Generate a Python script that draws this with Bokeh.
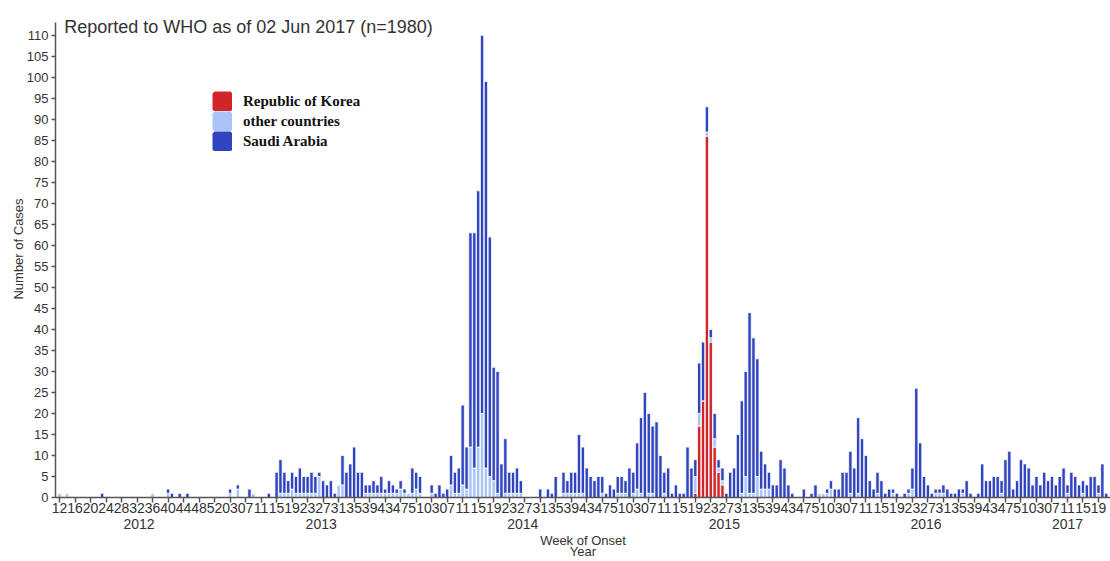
from bokeh.plotting import figure
from bokeh.models import (ColumnDataSource, FixedTicker, LinearAxis, Range1d,
                          Legend, LegendItem, Label)
from bokeh.embed import file_html
from bokeh.resources import INLINE

# ---------------- data (weekly case counts by week of onset) ----------------
years = ["2012", "2013", "2014", "2015", "2016", "2017"]
year_first_index = [0, 42, 94, 146, 198, 250]   # first week slot of each year
week_tick_labels = (
    ["12", "16", "20", "24", "28", "32", "36", "40", "44", "48", "52"]
    + ["03", "07", "11", "15", "19", "23", "27", "31", "35", "39", "43", "47", "51"] * 4
    + ["03", "07", "11", "15", "19"]
)

other = [
    1, 0, 1, 0, 0, 0, 0, 0, 0, 0,
    0, 0, 0, 0, 0, 0, 0, 0, 0, 0,
    0, 0, 0, 0, 1, 0, 0, 0, 1, 0,
    0, 0, 0, 0, 0, 0, 0, 0, 0, 0,
    0, 0, 0, 0, 1, 0, 2, 0, 0, 0,
    1, 0, 0, 0, 0, 0, 0, 1, 1, 1,
    2, 1, 1, 1, 1, 1, 1, 5, 0, 0,
    0, 0, 3, 3, 0, 0, 0, 0, 0, 1,
    1, 1, 1, 1, 1, 1, 1, 1, 2, 1,
    1, 1, 2, 1, 0, 0, 1, 0, 0, 0,
    0, 3, 1, 1, 3, 2, 12, 7, 12, 20,
    7, 5, 4, 1, 0, 1, 1, 1, 1, 1,
    0, 0, 0, 0, 0, 0, 0, 0, 0, 0,
    1, 1, 1, 1, 1, 1, 0, 0, 0, 0,
    1, 0, 0, 0, 1, 1, 1, 0, 1, 2,
    1, 0, 1, 1, 0, 0, 1, 0, 0, 0,
    0, 0, 0, 0, 4, 3, 0, 1, 1, 2,
    1, 1, 0, 0, 0, 0, 1, 5, 1, 1,
    5, 2, 2, 2, 0, 0, 0, 0, 0, 0,
    0, 0, 0, 0, 0, 0, 1, 1, 1, 2,
    0, 0, 0, 0, 1, 0, 1, 0, 0, 0,
    0, 1, 0, 0, 0, 1, 0, 0, 0, 1,
    2, 0, 0, 0, 0, 0, 1, 1, 1, 0,
    0, 0, 0, 1, 0, 0, 0, 0, 0, 0,
    0, 0, 0, 1, 0, 0, 0, 0, 0, 0,
    0, 0, 0, 0, 0, 0, 0, 0, 0, 0,
    1, 0, 0, 0, 1, 0, 0, 0, 1, 0,
    0,
]

saudi = [
    0, 0, 0, 0, 0, 0, 0, 0, 0, 0,
    0, 1, 0, 0, 0, 0, 0, 0, 0, 0,
    0, 0, 0, 0, 0, 0, 0, 0, 1, 1,
    0, 1, 0, 1, 0, 0, 0, 0, 0, 0,
    0, 0, 0, 0, 1, 0, 1, 0, 0, 2,
    0, 0, 0, 0, 1, 0, 6, 8, 5, 3,
    4, 4, 6, 4, 4, 5, 4, 1, 4, 3,
    4, 1, 0, 7, 6, 8, 12, 6, 6, 2,
    2, 3, 2, 4, 1, 3, 2, 1, 2, 1,
    0, 6, 4, 4, 0, 0, 2, 1, 3, 1,
    2, 7, 5, 6, 19, 10, 51, 56, 61, 90,
    92, 57, 27, 29, 8, 13, 5, 5, 6, 3,
    0, 0, 0, 0, 2, 0, 2, 1, 5, 0,
    5, 3, 5, 5, 14, 11, 7, 5, 4, 5,
    4, 1, 3, 2, 4, 4, 3, 7, 5, 11,
    18, 25, 19, 16, 18, 10, 5, 7, 1, 3,
    1, 1, 12, 7, 4, 12, 14, 6, 2, 6,
    2, 3, 1, 6, 7, 15, 22, 25, 43, 37,
    28, 9, 6, 4, 3, 3, 9, 7, 3, 1,
    0, 0, 2, 0, 1, 3, 0, 0, 1, 2,
    2, 2, 6, 6, 10, 7, 18, 14, 10, 4,
    2, 5, 4, 1, 2, 1, 1, 0, 1, 1,
    5, 26, 13, 5, 3, 1, 1, 1, 2, 2,
    1, 1, 2, 1, 4, 1, 0, 1, 8, 4,
    4, 5, 5, 3, 9, 11, 2, 4, 9, 8,
    7, 3, 5, 3, 6, 4, 5, 3, 5, 7,
    2, 6, 5, 3, 3, 3, 5, 5, 2, 8,
    1,
]

korea = [0] * 164 + [1, 17, 23, 86, 37, 12, 6, 3] + [0] * 99

series_names = ["Republic of Korea", "other countries", "Saudi Arabia"]
series_keys = ["korea", "other", "saudi"]
series_colors = ["#D0262B", "#A9C5F5", "#3044BF"]

# ---------------- derived positions ----------------
n_weeks = len(saudi)
week_slot = list(range(n_weeks))
week_tick_pos = [4 * k for k in range(len(week_tick_labels))]
year_last_index = year_first_index[1:] + [n_weeks]
year_centers = []
for a, b in zip(year_first_index, year_last_index):
    c = (a + b - 1) / 2
    year_centers.append(int(c) if c == int(c) else c)

src = ColumnDataSource(dict(x=week_slot, korea=korea, other=other, saudi=saudi))

FONT = "Liberation Sans"
TXT = "#333333"
AX = "#555555"

p = figure(width=1110, height=561,
           x_range=Range1d(-1.03, 271.1), y_range=Range1d(0, 118.3),
           output_backend="svg", toolbar_location=None,
           min_border_left=55, min_border_right=0, min_border_top=0,
           min_border_bottom=0)
p.outline_line_color = None
p.xgrid.visible = False
p.ygrid.visible = False
p.background_fill_color = "white"
p.border_fill_color = "white"

rs = p.vbar_stack(series_keys, x="x", width=0.86, source=src,
                  fill_color=series_colors, line_color="white", line_width=0.8)

# hidden renderers used only to paint solid legend keys
swatches = [p.vbar(x="x", top=k, width=0.8, source=src, visible=False,
                   fill_color=c, line_color=c, line_width=4)
            for k, c in zip(series_keys, series_colors)]

# y axis
ya = p.yaxis[0]
ya.ticker = FixedTicker(ticks=list(range(0, 111, 5)))
ya.bounds = (0, 113)
ya.minor_tick_line_color = None
ya.major_tick_out = 4
ya.major_tick_in = 0
ya.axis_line_color = AX
ya.axis_line_width = 1.5
ya.major_tick_line_color = AX
ya.major_tick_line_width = 1.5
ya.major_label_text_font = FONT
ya.major_label_text_font_size = "13px"
ya.major_label_text_color = TXT
ya.major_label_standoff = 3
ya.axis_label = "Number of Cases"
ya.axis_label_text_font = FONT
ya.axis_label_text_font_size = "13px"
ya.axis_label_text_font_style = "normal"
ya.axis_label_text_color = TXT
ya.axis_label_standoff = -2

# week axis
xa = p.xaxis[0]
xa.ticker = FixedTicker(ticks=week_tick_pos)
xa.major_label_overrides = {pos: lab for pos, lab in zip(week_tick_pos, week_tick_labels)}
xa.minor_tick_line_color = None
xa.major_tick_out = 5
xa.major_tick_in = 0
xa.axis_line_color = AX
xa.axis_line_width = 1.5
xa.major_tick_line_color = AX
xa.major_tick_line_width = 1.5
xa.major_label_text_font = FONT
xa.major_label_text_font_size = "14px"
xa.major_label_text_color = TXT
xa.major_label_standoff = 0

# year axis (with "Week of Onset" as its label)
yr = LinearAxis(ticker=FixedTicker(ticks=year_centers),
                major_label_overrides={c: y for c, y in zip(year_centers, years)})
yr.axis_line_color = None
yr.major_tick_line_color = None
yr.minor_tick_line_color = None
yr.major_tick_out = 0
yr.major_tick_in = 0
yr.major_label_standoff = 3
yr.major_label_text_font = FONT
yr.major_label_text_font_size = "14px"
yr.major_label_text_color = TXT
yr.axis_label = "Week of Onset"
yr.axis_label_standoff = 1
yr.axis_label_text_font = FONT
yr.axis_label_text_font_size = "13px"
yr.axis_label_text_font_style = "normal"
yr.axis_label_text_color = TXT
p.add_layout(yr, "below")

# third, empty axis carrying the "Year" label
ylab = LinearAxis(ticker=FixedTicker(ticks=[]))
ylab.axis_line_color = None
ylab.major_tick_line_color = None
ylab.minor_tick_line_color = None
ylab.major_tick_out = 0
ylab.major_tick_in = 0
ylab.major_label_standoff = 0
ylab.axis_label = "Year"
ylab.axis_label_standoff = -7
ylab.axis_label_text_font = FONT
ylab.axis_label_text_font_size = "13px"
ylab.axis_label_text_font_style = "normal"
ylab.axis_label_text_color = TXT
p.add_layout(ylab, "below")

# title
p.add_layout(Label(x=1.2, y=111.9, text="Reported to WHO as of 02 Jun 2017 (n=1980)",
                   text_font=FONT, text_font_size="18px", text_color=TXT,
                   text_baseline="alphabetic"))

# legend
legend = Legend(items=[LegendItem(label=n, renderers=[r]) for n, r in zip(series_names, swatches)],
                location=(157, 346), glyph_width=20, glyph_height=20, spacing=0,
                padding=0, margin=0, label_standoff=11, label_height=20,
                border_line_color=None, background_fill_alpha=0,
                inactive_fill_alpha=0,
                label_text_font="Liberation Serif", label_text_font_style="bold",
                label_text_font_size="15px", label_text_color="#111111")
p.add_layout(legend)

open("out.html", "w").write(file_html(p, INLINE))
